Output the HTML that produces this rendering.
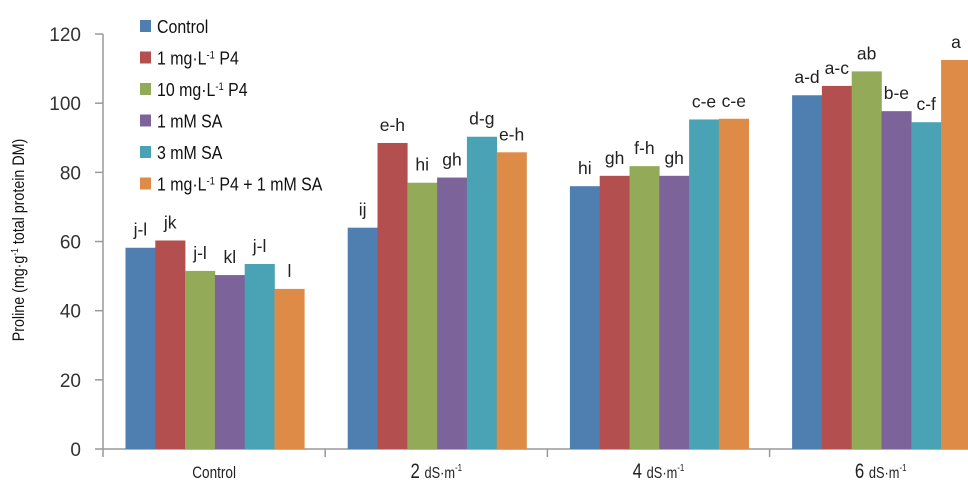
<!DOCTYPE html>
<html><head><meta charset="utf-8"><style>
body{margin:0;background:#fff}
svg{display:block;font-family:"Liberation Sans",sans-serif}
</style></head><body>
<svg id="c" width="968" height="487"></svg>
<script>
const categories=["Control","2","4","6"];
const series=["Control","1 mg·L⁻¹ P4","10 mg·L⁻¹ P4","1 mM SA","3 mM SA","1 mg·L⁻¹ P4 + 1 mM SA"];
const colors=["#4f7eb0","#b34f4f","#93ab58","#7c649a","#4aa2b5","#de8b47"];
const vControl=[58.2,60.3,51.5,50.3,53.5,46.3];
const v2=[64,88.5,77,78.5,90.3,85.8];
const v4=[76,79,81.8,79,95.3,95.5];
const v6=[102.3,105,109.2,97.7,94.5,112.5];
const values=[vControl,v2,v4,v6];
const letters=[["j-l","jk","j-l","kl","j-l","l"],["ij","e-h","hi","gh","d-g","e-h"],["hi","gh","f-h","gh","c-e","c-e"],["a-d","a-c","ab","b-e","c-f","a"]];
const yTicks=[0,20,40,60,80,100,120];
const NS="http://www.w3.org/2000/svg";
const svg=document.getElementById('c');
function mk(t,a,txt,p){const e=document.createElementNS(NS,t);for(const k in a)e.setAttribute(k,a[k]);if(txt!=null)e.textContent=txt;(p||svg).appendChild(e);return e;}
const x0=103,gw=222.2,bw=29.8,off=22.5;
const y=v=>449-v*3.458;
const gx=i=>x0+i*gw;
let e,g;
e=mk('line',{x1:x0,y1:y(120),x2:x0,y2:449,stroke:'#999','stroke-width':1.5});


e=mk('line',{x1:x0,y1:449,x2:968,y2:449,stroke:'#999','stroke-width':1.5});


yTicks.forEach(t=>{
 e=mk('line',{x1:x0-8,y1:y(t),x2:x0,y2:y(t),stroke:'#999','stroke-width':1.5});
 
 
 e=mk('text',{x:x0-22,y:y(t)+7,'text-anchor':'end','font-size':19,fill:'#333'},t);
 
 
});
for(let i=0;i<=4;i++){
 e=mk('line',{x1:gx(i),y1:449,x2:gx(i),y2:457,stroke:'#999','stroke-width':1.5});
 
 
}
categories.forEach((c,i)=>{
 g=mk('g',{transform:`translate(${gx(i)+gw/2},478) scale(0.8,1)`});
 e=mk('text',{x:0,y:0,'text-anchor':'middle','font-size':i==0?17:21,fill:'#222'},null,g);
 
 
 if(i==0)e.textContent=c;else e.innerHTML=c+' <tspan font-size="16">dS·m</tspan><tspan font-size="10" dy="-7">-1</tspan>';
 values[i].forEach((v,j)=>{
  const bx=gx(i)+off+j*bw;
  e=mk('rect',{x:bx,y:y(v),width:bw+0.3,height:449-y(v),fill:colors[j]});
  
  
  e=mk('text',{x:bx+bw/2,y:y(v)-12,'text-anchor':'middle','font-size':17.5,fill:'#222'},letters[i][j]);
  
  
 });
});
g=mk('g',{transform:'translate(24,240) rotate(-90) scale(0.84,1)'});
e=mk('text',{x:0,y:0,'text-anchor':'middle','font-size':17,fill:'#111'},null,g);
e.innerHTML='Proline (mg·g<tspan font-size="10" dy="-6">-1</tspan><tspan dy="6"> total protein DM)</tspan>';


const legend=['Control','1 mg·L<tspan font-size="11" dy="-6">-1</tspan><tspan dy="6"> P4</tspan>','10 mg·L<tspan font-size="11" dy="-6">-1</tspan><tspan dy="6"> P4</tspan>','1 mM SA','3 mM SA','1 mg·L<tspan font-size="11" dy="-6">-1</tspan><tspan dy="6"> P4 + 1 mM SA</tspan>'];
legend.forEach((l,j)=>{
 const ly=26+j*31.5;
 e=mk('rect',{x:140,y:ly-6,width:11,height:12,fill:colors[j]});
 
 
 g=mk('g',{transform:`translate(157,${ly+7}) scale(0.86,1)`});
 e=mk('text',{x:0,y:0,'font-size':18.5,fill:'#111'},null,g);
 e.innerHTML=l;
 
 
});
</script>
</body></html>
